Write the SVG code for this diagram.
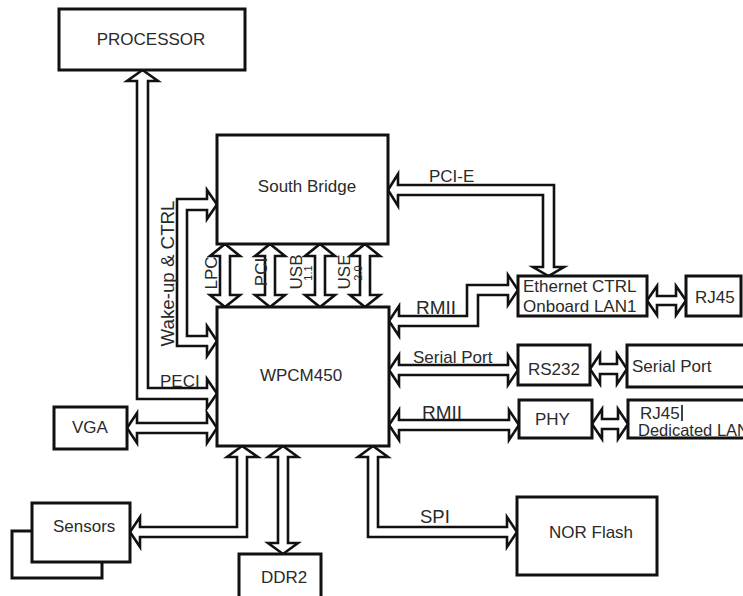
<svg xmlns="http://www.w3.org/2000/svg" width="743" height="596" viewBox="0 0 743 596">
<style>
.box{fill:#fff;stroke:#111;stroke-width:3}
.con{fill:#fff;stroke:#111;stroke-width:2.6;stroke-linejoin:miter}
.t{font-family:"Liberation Sans",Arial,sans-serif;font-size:17px;fill:#2a2a2a}
.m{text-anchor:middle}
.s{font-size:11px}
</style>
<rect width="743" height="596" fill="#fff"/>
<g id="connectors">
<polygon class="con" points="142.5,70 158,81 148,81 148,388 207,388 207,379 217,393.5 207,408 207,399 137,399 137,81 127,81"/>
<polygon class="con" points="217,204.5 207,219 207,210 187,210 187,336 207,336 207,326 217,341 207,356 207,346 177,346 177,199 207,199 207,190"/>
<polygon class="con" points="225,244 240,256 230,256 230,295 240,295 225,307 210,295 220,295 220,256 210,256"/>
<polygon class="con" points="270,244 285,256 275,256 275,295 285,295 270,307 255,295 265,295 265,256 255,256"/>
<polygon class="con" points="320,244 335,256 325,256 325,295 335,295 320,307 305,295 315,295 315,256 305,256"/>
<polygon class="con" points="365,244 380,256 370,256 370,295 380,295 365,307 350,295 360,295 360,256 350,256"/>
<polygon class="con" points="388,190 398,174 398,185 554,185 554,267 564,267 548.5,276 533,267 543,267 543,195 398,195 398,206"/>
<polygon class="con" points="518,290 508,305 508,295 478,295 478,326 399,326 399,336 389,321 399,306 399,316 467,316 467,285 508,285 508,275"/>
<polygon class="con" points="647,300.5 657,286 657,296 676,296 676,286 686,300.5 676,315 676,305 657,305 657,315"/>
<polygon class="con" points="389,370 399,355 399,365 508,365 508,355 518,370 508,385 508,375 399,375 399,385"/>
<polygon class="con" points="590,369 600,354 600,364 617,364 617,354 627,369 617,384 617,374 600,374 600,384"/>
<polygon class="con" points="389,425 399,410 399,420 509,420 509,410 519,425 509,440 509,430 399,430 399,440"/>
<polygon class="con" points="592,424 602,409 602,419 618,419 618,409 628,424 618,439 618,429 602,429 602,439"/>
<polygon class="con" points="127,428 137,413 137,423 207,423 207,413 217,428 207,443 207,433 137,433 137,443"/>
<polygon class="con" points="242,446 258,457 247,457 247,537 140,537 140,547 130,532 140,517 140,527 237,527 237,457 227,457"/>
<polygon class="con" points="283,446 298,457 288,457 288,543 298,543 283,554 268,543 278,543 278,457 268,457"/>
<polygon class="con" points="373,446 388,457 378,457 378,527 507,527 507,517 517,532 507,547 507,537 368,537 368,457 358,457"/>
<text class="t" x="429" y="182">PCI-E</text>
<text class="t" x="416" y="314" style="font-size:19px">RMII</text>
<text class="t" x="413" y="363">Serial Port</text>
<text class="t" x="422" y="419" style="font-size:19px">RMII</text>
<text class="t" x="420" y="523" style="font-size:18.5px">SPI</text>
<text class="t" x="160" y="387">PECI</text>
<text class="t m" transform="translate(174,273.5) rotate(-90)" style="font-size:18px" textLength="146" lengthAdjust="spacingAndGlyphs">Wake-up &amp; CTRL</text>
<text class="t m" transform="translate(217,273) rotate(-90)">LPC</text>
<text class="t m" transform="translate(267,272) rotate(-90)">PCI</text>
<text class="t m" transform="translate(302,272) rotate(-90)">USB</text>
<text class="t m s" transform="translate(312,273) rotate(-90)">1.1</text>
<text class="t m" transform="translate(350,272) rotate(-90)">USE</text>
<text class="t m s" transform="translate(362,273) rotate(-90)">2.0</text>
</g>
<g id="processor"><rect class="box" x="59" y="9" width="186" height="61"/><text class="t m" x="151" y="45">PROCESSOR</text></g>
<g id="south-bridge"><rect class="box" x="217" y="135" width="171" height="109"/><text class="t m" x="307" y="192">South Bridge</text></g>
<g id="wpcm450"><rect class="box" x="217" y="307" width="172" height="139"/><text class="t m" x="301" y="381">WPCM450</text></g>
<g id="ethernet-ctrl"><rect class="box" x="518" y="276" width="129" height="40"/><text class="t" x="523" y="292">Ethernet CTRL</text><text class="t" x="523" y="312">Onboard LAN1</text></g>
<g id="rj45-onboard"><rect class="box" x="686" y="276" width="55" height="40"/><text class="t" x="695" y="303">RJ45</text></g>
<g id="rs232"><rect class="box" x="518" y="345" width="72" height="40"/><text class="t" x="528" y="375">RS232</text></g>
<g id="serial-port"><rect class="box" x="627" y="345" width="130" height="42"/><text class="t" x="632" y="372">Serial Port</text></g>
<g id="phy"><rect class="box" x="519" y="400" width="73" height="38"/><text class="t" x="535" y="425">PHY</text></g>
<g id="rj45-dedicated"><rect class="box" x="628" y="400" width="130" height="38"/><text class="t" x="640" y="419" style="font-size:17px">RJ45</text><line x1="682" y1="405" x2="682" y2="421" stroke="#111" stroke-width="1.6"/><text class="t" x="638" y="436" style="font-size:16.5px">Dedicated LAN</text></g>
<g id="vga"><rect class="box" x="54" y="407" width="73" height="42"/><text class="t" x="72" y="433">VGA</text></g>
<g id="sensors"><rect class="box" x="12" y="531" width="90" height="47"/><rect class="box" x="32" y="503" width="98" height="59"/><text class="t" x="53" y="532">Sensors</text></g>
<g id="ddr2"><rect class="box" x="239" y="554" width="82" height="60"/><text class="t" x="261" y="583">DDR2</text></g>
<g id="nor-flash"><rect class="box" x="517" y="497" width="140" height="78"/><text class="t" x="549" y="538">NOR Flash</text></g>
</svg>
